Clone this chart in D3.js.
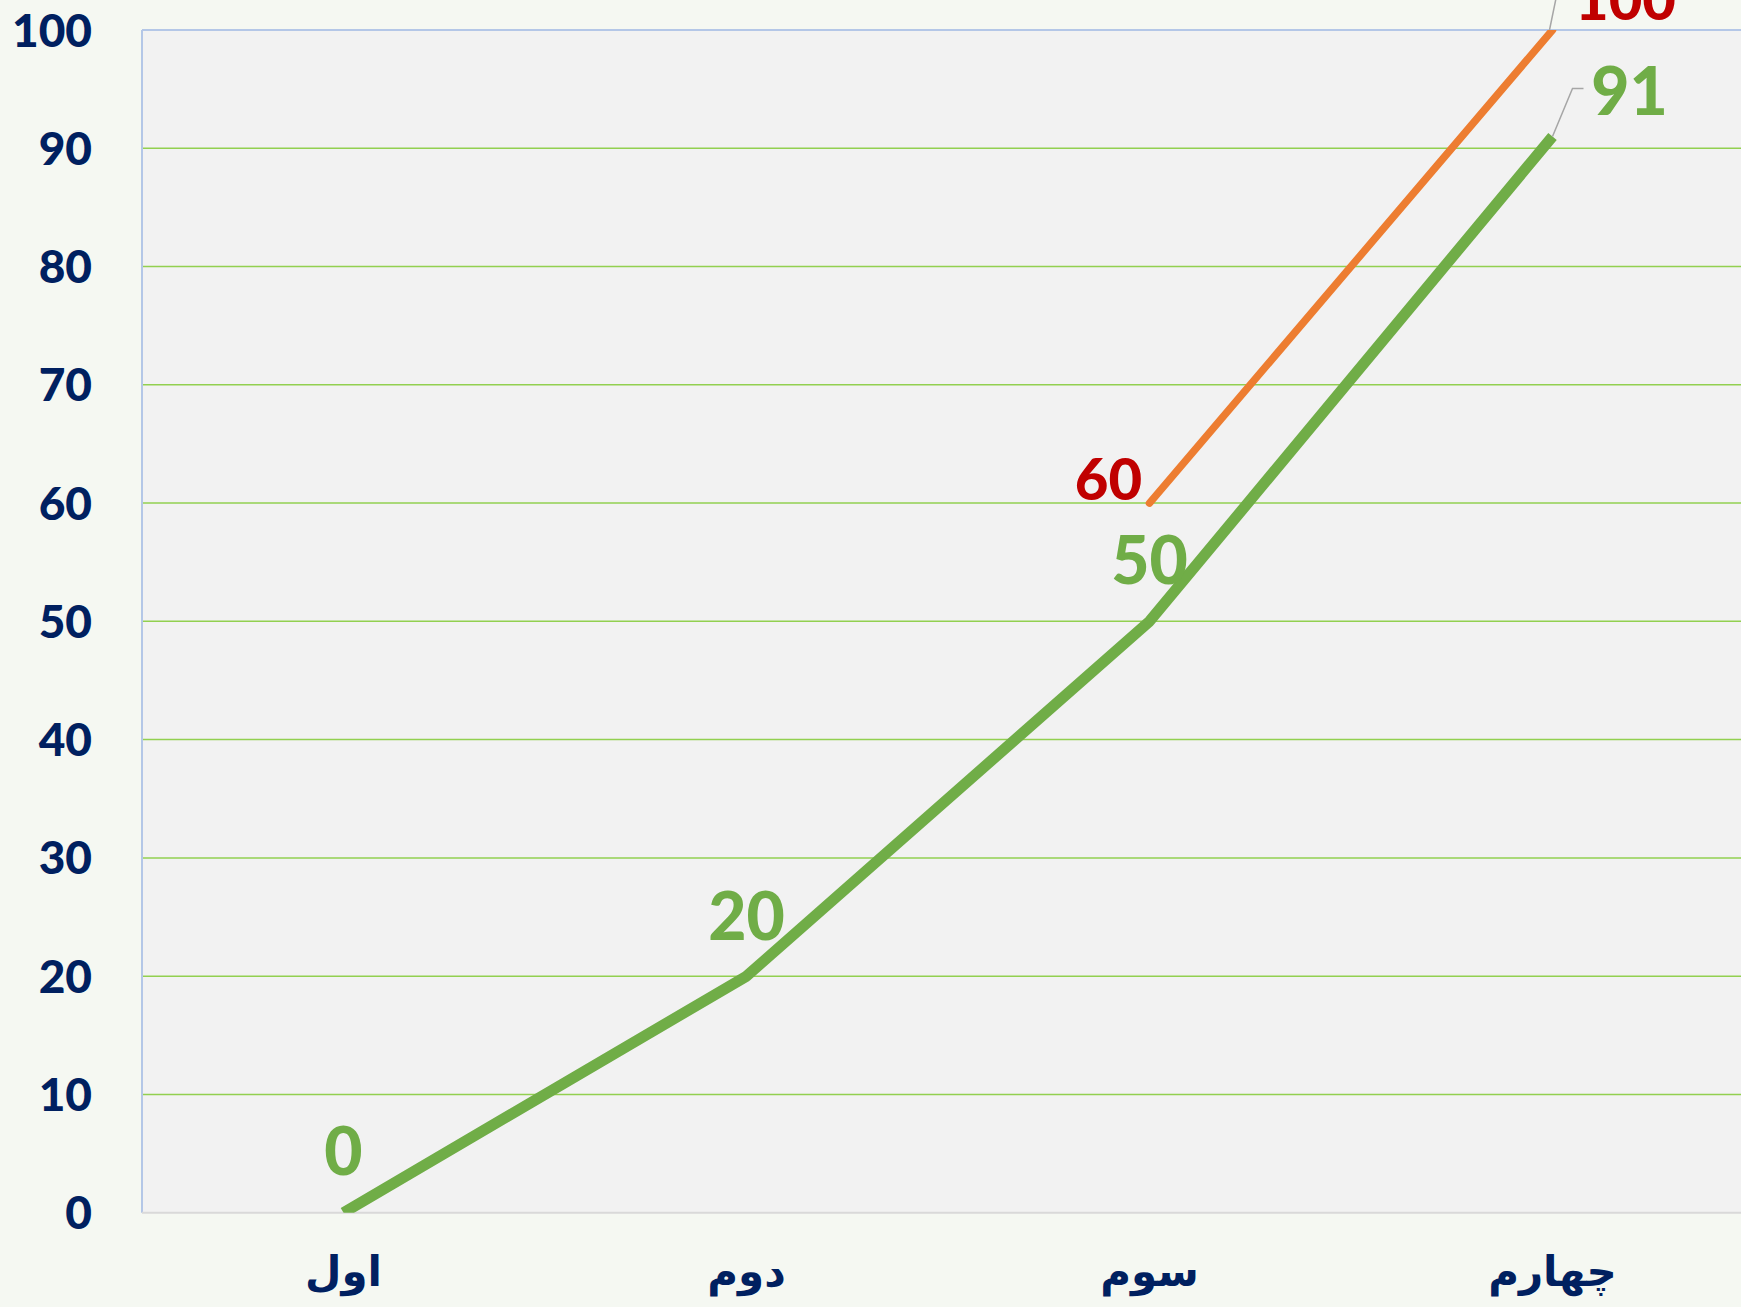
<!DOCTYPE html>
<html>
<head>
    <meta charset="utf-8">
    <title>Line chart</title>
    <script src="https://cdn.jsdelivr.net/npm/d3@7"></script>
    <style>
        body {
            margin: 0;
            background-color: #f5f8f2;
            overflow: hidden;
        }
        .tick-y {
            font-family: Lato, "Noto Sans", sans-serif;
            font-weight: 900;
            fill: #002060;
        }
        .tick-x {
            font-family: "DejaVu Sans", sans-serif;
            font-weight: bold;
            fill: #002060;
        }
        .data-label {
            font-family: Lato, "Noto Sans", sans-serif;
            font-weight: 900;
        }
    </style>
</head>
<body>
    <div id="chart"></div>

    <script>
        const categories = ["اول", "دوم", "سوم", "چهارم"];
        const greenValues = [0, 20, 50, 91];
        const orangeValues = [null, null, 60, 100];
        const yTicks = [0, 10, 20, 30, 40, 50, 60, 70, 80, 90, 100];

        // label offsets from the point (px) and leader lines, kept apart from the data
        const greenLabelOffsets = [[0, -61], [0, -60], [0, -61], [77, -45]];
        const orangeLabelOffsets = [null, null, [-41, -24], [73, -31]];
        const greenLeaders = [null, null, null, [[0, 0], [20, -48], [31, -48]]];
        const orangeLeaders = [null, null, null, [[-3, 0], [4, -34], [15, -34]]];

        const W = 1741, H = 1307;
        const plot = { left: 142, top: 30, right: 1754, bottom: 1212.7 };

        const svg = d3.select("#chart")
            .append("svg")
            .attr("width", W)
            .attr("height", H);

        svg.append("rect")
            .attr("width", W)
            .attr("height", H)
            .attr("fill", "#f5f8f2");

        const x = d3.scaleBand()
            .domain(categories)
            .range([plot.left, plot.right])
            .padding(0);

        const y = d3.scaleLinear()
            .domain([0, 100])
            .range([plot.bottom, plot.top]);

        const cx = c => x(c) + x.bandwidth() / 2;

        // plot area
        svg.append("rect")
            .attr("x", plot.left)
            .attr("y", plot.top)
            .attr("width", plot.right - plot.left)
            .attr("height", plot.bottom - plot.top)
            .attr("fill", "#f2f2f2");

        svg.append("defs").append("clipPath")
            .attr("id", "plotClip")
            .append("rect")
            .attr("x", plot.left)
            .attr("y", plot.top)
            .attr("width", plot.right - plot.left)
            .attr("height", plot.bottom - plot.top);

        // grid lines
        svg.append("g")
            .selectAll("line")
            .data(yTicks.filter(t => t > 0 && t < 100))
            .enter()
            .append("line")
            .attr("x1", plot.left)
            .attr("x2", plot.right)
            .attr("y1", d => y(d))
            .attr("y2", d => y(d))
            .attr("stroke", "#92d050")
            .attr("stroke-width", 1.5);

        // frame: top and left in light blue, bottom axis in grey
        svg.append("line")
            .attr("x1", plot.left).attr("x2", plot.right)
            .attr("y1", y(100)).attr("y2", y(100))
            .attr("stroke", "#b4c7e7").attr("stroke-width", 2);
        svg.append("line")
            .attr("x1", plot.left).attr("x2", plot.left)
            .attr("y1", y(100)).attr("y2", y(0))
            .attr("stroke", "#b4c7e7").attr("stroke-width", 2);
        svg.append("line")
            .attr("x1", plot.left).attr("x2", plot.right)
            .attr("y1", y(0)).attr("y2", y(0))
            .attr("stroke", "#d9d9d9").attr("stroke-width", 2);

        // Y axis labels
        svg.append("g")
            .selectAll("text")
            .data(yTicks)
            .enter()
            .append("text")
            .attr("class", "tick-y")
            .attr("x", 92)
            .attr("y", d => y(d))
            .attr("dy", "0.36em")
            .attr("text-anchor", "end")
            .style("font-size", "46px")
            .text(d => d);

        // X axis labels
        svg.append("g")
            .selectAll("text")
            .data(categories)
            .enter()
            .append("text")
            .attr("class", "tick-x")
            .attr("x", d => cx(d))
            .attr("y", 1286)
            .attr("text-anchor", "middle")
            .attr("direction", "rtl")
            .style("font-size", "42px")
            .text(d => d);

        // lines
        const line = d3.line()
            .defined(d => d.v !== null)
            .x(d => cx(d.c))
            .y(d => y(d.v));

        const greenData = categories.map((c, i) => ({ c, v: greenValues[i] }));
        const orangeData = categories.map((c, i) => ({ c, v: orangeValues[i] }));

        const lines = svg.append("g").attr("clip-path", "url(#plotClip)");

        lines.append("path")
            .datum(orangeData)
            .attr("d", line)
            .attr("fill", "none")
            .attr("stroke", "#ed7d31")
            .attr("stroke-width", 7.5)
            .attr("stroke-linecap", "round")
            .attr("stroke-linejoin", "round");

        lines.append("path")
            .datum(greenData)
            .attr("d", line)
            .attr("fill", "none")
            .attr("stroke", "#70ad47")
            .attr("stroke-width", 11)
            .attr("stroke-linecap", "butt")
            .attr("stroke-linejoin", "round");

        // leader lines
        function drawLeaders(data, leaders) {
            data.forEach((d, i) => {
                if (!leaders[i] || d.v === null) return;
                const px = cx(d.c), py = y(d.v);
                svg.append("path")
                    .attr("d", d3.line()(leaders[i].map(p => [px + p[0], py + p[1]])))
                    .attr("fill", "none")
                    .attr("stroke", "#a6a6a6")
                    .attr("stroke-width", 1.5);
            });
        }
        drawLeaders(greenData, greenLeaders);
        drawLeaders(orangeData, orangeLeaders);

        // data labels
        function drawLabels(data, offsets, color, size) {
            svg.append("g")
                .selectAll("text")
                .data(data.filter((d, i) => d.v !== null && offsets[i]))
                .enter()
                .append("text")
                .attr("class", "data-label")
                .attr("x", d => cx(d.c) + offsets[categories.indexOf(d.c)][0])
                .attr("y", d => y(d.v) + offsets[categories.indexOf(d.c)][1])
                .attr("dy", "0.36em")
                .attr("text-anchor", "middle")
                .attr("fill", color)
                .style("font-size", size + "px")
                .text(d => d.v);
        }
        drawLabels(greenData, greenLabelOffsets, "#70ad47", 66);
        drawLabels(orangeData, orangeLabelOffsets, "#c00000", 58);
    </script>
</body>
</html>
